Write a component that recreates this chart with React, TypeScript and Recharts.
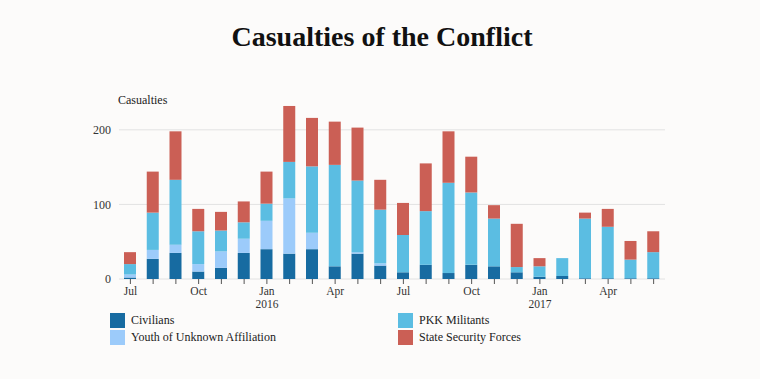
import { BarChart, Bar, XAxis, YAxis, CartesianGrid } from "recharts";

// monthly casualties, Jul 2015 - Jun 2017
const months = [
  "2015-07", "2015-08", "2015-09", "2015-10", "2015-11", "2015-12",
  "2016-01", "2016-02", "2016-03", "2016-04", "2016-05", "2016-06",
  "2016-07", "2016-08", "2016-09", "2016-10", "2016-11", "2016-12",
  "2017-01", "2017-02", "2017-03", "2017-04", "2017-05", "2017-06",
];
const tickLabels = ["Jul", "", "", "Oct", "", "", "Jan", "", "", "Apr", "", "", "Jul", "", "", "Oct", "", "", "Jan", "", "", "Apr", "", ""];
const tickYears = ["", "", "", "", "", "", "2016", "", "", "", "", "", "", "", "", "", "", "", "2017", "", "", "", "", ""];

const civilians = [2, 27, 35, 10, 15, 35, 40, 34, 40, 17, 34, 18, 9, 19, 8, 19, 17, 9, 3, 4, 1, 1, 1, 1];
const youth = [4, 12, 11, 10, 22, 19, 38, 74, 22, 0, 2, 3, 0, 0, 0, 0, 0, 0, 0, 0, 0, 0, 0, 0];
const pkk = [14, 50, 87, 44, 28, 22, 23, 49, 89, 136, 96, 72, 50, 72, 121, 97, 64, 7, 14, 24, 80, 69, 25, 35];
const security = [16, 55, 65, 30, 25, 28, 43, 75, 65, 58, 71, 40, 43, 64, 69, 48, 18, 58, 11, 0, 8, 24, 25, 28];

const yTicks = [0, 100, 200];

const series = [
  { key: "civilians", name: "Civilians", color: "#176ba1" },
  { key: "youth", name: "Youth of Unknown Affiliation", color: "#9ccbfa" },
  { key: "pkk", name: "PKK Militants", color: "#5bbde2" },
  { key: "security", name: "State Security Forces", color: "#cb5f55" },
];

const data = months.map((m, i) => ({
  month: m,
  civilians: civilians[i],
  youth: youth[i],
  pkk: pkk[i],
  security: security[i],
}));

const font = "'Liberation Serif', Georgia, serif";

const MonthTick = (props: any) => {
  const { x, y, payload } = props;
  const i = payload.index;
  return (
    <g transform={`translate(${x},${y})`}>
      <text textAnchor="middle" fill="#333" fontSize={11.5} fontFamily={font} dy="0.75em">
        {tickLabels[i]}
      </text>
      {tickYears[i] && (
        <text textAnchor="middle" fill="#333" fontSize={11.5} fontFamily={font} dy="1.95em">
          {tickYears[i]}
        </text>
      )}
    </g>
  );
};

const App = () => {
  return (
    <div style={{ position: "absolute", left: 0, top: 0, width: 760, height: 379, background: "#fcfbfa", fontFamily: font }}>
      <div style={{ position: "absolute", left: 0, width: 764, top: 21, textAlign: "center", fontSize: 28, fontWeight: "bold", color: "#111", lineHeight: "32px" }}>
        Casualties of the Conflict
      </div>
      <div style={{ position: "absolute", left: 118, top: 93, fontSize: 12, color: "#222" }}>Casualties</div>
      <div style={{ position: "absolute", left: 0, top: 0 }}>
        <BarChart width={760} height={379} data={data} margin={{ top: 100, right: 95, bottom: 70, left: 0 }}>
          <CartesianGrid vertical={false} stroke="#e2e2e2" horizontalValues={yTicks} />
          <XAxis
            dataKey="month"
            interval={0}
            axisLine={false}
            tickLine={{ stroke: "#555" }}
            tickSize={5}
            tick={<MonthTick />}
            height={30}
          />
          <YAxis
            width={119}
            domain={[0, 240]}
            ticks={yTicks}
            axisLine={false}
            tickLine={false}
            tick={{ fill: "#333", fontSize: 12, fontFamily: font }}
          />
          {series.map((s) => (
            <Bar key={s.key} dataKey={s.key} name={s.name} stackId="a" fill={s.color} barSize={12} isAnimationActive={false} />
          ))}
        </BarChart>
      </div>
      {series.map((s, i) => {
        const col = i === 0 || i === 1 ? 0 : 1;
        const row = i === 0 || i === 2 ? 0 : 1;
        return (
          <div key={s.key} style={{ position: "absolute", left: col === 0 ? 110 : 398, top: 313 + row * 17, display: "flex", alignItems: "center", fontSize: 12, color: "#222" }}>
            <span style={{ display: "inline-block", width: 15, height: 15, background: s.color, marginRight: 6 }} />
            {s.name}
          </div>
        );
      })}
    </div>
  );
};

export default App;
